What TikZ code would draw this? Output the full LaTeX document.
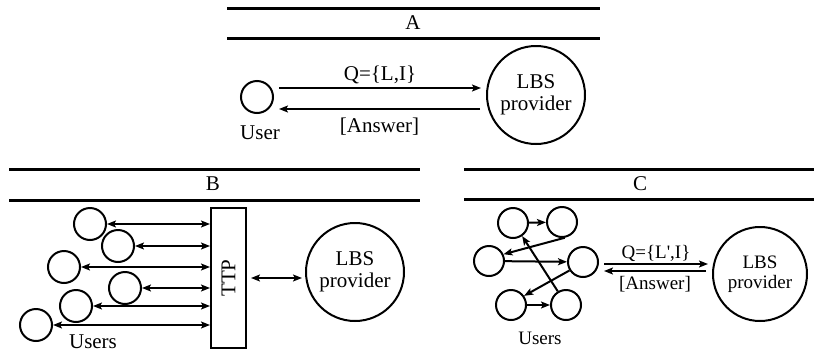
\documentclass[tikz,border=0pt]{standalone}
\usepackage{fontspec}
\setmainfont{Liberation Serif}
\usetikzlibrary{arrows.meta}

\begin{document}
\begin{tikzpicture}[x=1pt,y=-1pt,line width=2pt,
    every node/.style={font=\fontsize{21}{22}\selectfont},
    small/.style={font=\fontsize{19}{20}\selectfont},
    usr/.style={circle,draw,inner sep=0pt,minimum size=32pt},
    usrc/.style={circle,draw,inner sep=0pt,minimum size=30pt},
    lbs/.style={circle,draw,inner sep=0pt,minimum size=98pt,align=center},
    rule/.style={line width=3pt},
    arr/.style={-{Stealth[length=9pt,width=7pt,inset=2pt]}},
    arrs/.style={{Stealth[length=9pt,width=7pt,inset=2pt]}-{Stealth[length=9pt,width=7pt,inset=2pt]}}]
\useasboundingbox (0,0) rectangle (814,354);

% A
\draw[rule] (227,8) -- (600,8);
\draw[rule] (227,38) -- (600,38);
\node (labA) at (413,23) {A};
\node[usr] (user) at (257,97) {};
\node (userlab) at (260,133) {User};
\node[lbs] (lbsA) at (536,95) {LBS\\provider};
\draw[arr] ([xshift=5pt,yshift=9pt]user.east) -- node[above] {Q=\{L,I\}} ([xshift=-5pt,yshift=7pt]lbsA.west);
\draw[arr] ([xshift=-6pt,yshift=-14pt]lbsA.west) -- node[below=5pt] {[Answer]} ([xshift=5pt,yshift=-12pt]user.east);

% B
\draw[rule] (9,169) -- (420,169);
\draw[rule] (9,200) -- (420,200);
\node (labB) at (213,184) {B};
\node[draw,minimum width=35pt,minimum height=140pt,inner sep=0pt] (ttp) at (228.5,278) {};
\node[rotate=90] at (ttp) {TTP};
\node[usr] (u1) at (90,224) {};
\node[usr] (u2) at (118,246) {};
\node[usr] (u3) at (64,267) {};
\node[usr] (u4) at (125,288) {};
\node[usr] (u5) at (76,306) {};
\node[usr] (u6) at (36,325) {};
\foreach \u in {u1,u2,u3,u4,u5,u6}
  \draw[arrs] (\u.east) -- (\u.east -| ttp.west);
\node (usersB) at (93,342) {Users};
\node[lbs] (lbsB) at (355,272) {LBS\\provider};
\draw[arrs] ([xshift=4pt]ttp.east) -- ([xshift=-3pt]ttp.east -| lbsB.west);

% C
\draw[rule] (464,169) -- (814,169);
\draw[rule] (464,199) -- (814,199);
\node (labC) at (640,184) {C};
\node[usrc] (c1) at (513,223) {};
\node[usrc] (c2) at (562,222) {};
\node[usrc] (c3) at (489,261) {};
\node[usrc] (c4) at (583,262) {};
\node[usrc] (c5) at (511,305) {};
\node[usrc] (c6) at (566,305) {};
\draw[arr] (c1) -- (c2);
\draw[arr] (c2.-80) -- (c3.25);
\draw[arr] (c3) -- (c4);
\draw[arr] (c4.212) -- (c5.35);
\draw[arr] (c5) -- (c6);
\draw[arr] (c6.121) -- (c1.-55);
\node[small] (usersC) at (540,338) {Users};
\node[lbs,small,minimum size=94pt] (lbsC) at (760,274) {LBS\\provider};
\draw[arr] ([xshift=5pt,yshift=-2pt]c4.east) -- node[above,small,inner sep=1pt] {Q=\{L\textquotesingle,I\}} ([xshift=-4pt,yshift=10pt]lbsC.west);
\draw[arr] ([xshift=-6pt,yshift=3pt]lbsC.west) -- node[below=2pt,small,inner sep=2pt] {[Answer]} ([xshift=5pt,yshift=-9pt]c4.east);
\end{tikzpicture}
\end{document}
